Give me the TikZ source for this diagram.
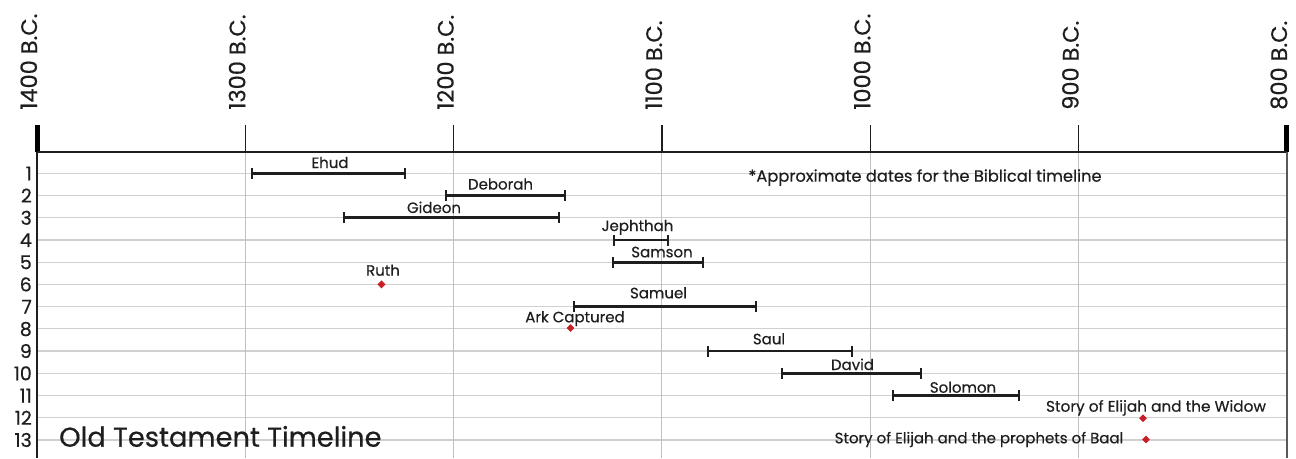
\documentclass[tikz,border=0pt]{standalone}
\usepackage{fontspec}
\setmainfont{Poppins}[FakeBold=0.45]
\usetikzlibrary{arrows.meta,shapes.geometric}
\definecolor{gridgray}{RGB}{208,208,208}
\definecolor{colgray}{RGB}{192,192,192}
\definecolor{dotred}{RGB}{200,30,40}
\definecolor{ink}{RGB}{30,30,30}
\begin{document}
\begin{tikzpicture}[x=1pt,y=-1pt,
  rowline/.style={draw=gridgray, line width=1.3pt},
  colline/.style={draw=colgray, line width=1pt},
  tickline/.style={draw=ink, line width=1.3pt},
  endtick/.style={draw=black, line width=5pt},
  bar/.style={draw=ink, line width=2.8pt, {Bar[width=11pt,line width=2.4pt]}-{Bar[width=11pt,line width=2.4pt]}},
  lbl/.style={font=\fontsize{15}{15}\selectfont, text=ink, anchor=base, inner sep=0},
  yearlbl/.style={font=\fontsize{22.5}{22.5}\selectfont, text=ink, rotate=90, anchor=base west, inner sep=0},
  rownum/.style={font=\fontsize{19}{19}\selectfont, text=ink, anchor=base east, inner sep=0},
  event/.style={diamond, fill=dotred, inner sep=0, minimum width=8pt, minimum height=8pt}
]
\useasboundingbox (0,0) rectangle (1296,458);
% rows
\foreach \i in {1,...,13}{
  \pgfmathsetmacro{\yy}{173.3+(\i-1)*22.22}
  \coordinate (rl\i) at (37,\yy);
  \coordinate (rr\i) at (1287,\yy);
  \draw[rowline] (rl\i) -- (rr\i);
  \node[rownum] (num\i) at (32,\yy+7) {\i};
}
% columns, ticks, year labels
\foreach \k/\yr in {0/1400,1/1300,2/1200,3/1100,4/1000,5/900,6/800}{
  \pgfmathsetmacro{\xx}{37+\k*208.33}
  \coordinate (top\k) at (\xx,125);
  \coordinate (ax\k) at (\xx,152);
  \coordinate (bot\k) at (\xx,458);
  \node[yearlbl] (yr\k) at (\xx,110) {\yr{} B.C.};
}
\foreach \k in {1,...,5}{
  \draw[colline] (ax\k) -- (bot\k);
  \draw[tickline] (top\k) -- (ax\k);
}
\draw[endtick] (top0) -- (ax0);
\draw[endtick] (top6) -- (ax6);
\draw[line width=1.6pt, draw=ink] (ax0) -- (ax6);
\draw[line width=2pt, draw=ink] (ax0) -- (bot0);
\draw[line width=2pt, draw=black!65] (ax6) -- (bot6);

% bars
\coordinate (ehudA) at (251,173.3);   \coordinate (ehudB) at (406,173.3);
\coordinate (debA) at (445,195.5);    \coordinate (debB) at (566,195.5);
\coordinate (gidA) at (343,217.7);    \coordinate (gidB) at (560,217.7);
\coordinate (jepA) at (613,240);      \coordinate (jepB) at (669,240);
\coordinate (samA) at (612,262.2);    \coordinate (samB) at (704,262.2);
\coordinate (smlA) at (573,306.6);    \coordinate (smlB) at (757,306.6);
\coordinate (saulA) at (707,351);     \coordinate (saulB) at (853,351);
\coordinate (davA) at (781,373.2);    \coordinate (davB) at (922,373.2);
\coordinate (solA) at (892,395.5);    \coordinate (solB) at (1020,395.5);
\draw[bar] (ehudA) -- (ehudB);
\draw[bar] (debA) -- (debB);
\draw[bar] (gidA) -- (gidB);
\draw[bar] (jepA) -- (jepB);
\draw[bar] (samA) -- (samB);
\draw[bar] (smlA) -- (smlB);
\draw[bar] (saulA) -- (saulB);
\draw[bar] (davA) -- (davB);
\draw[bar] (solA) -- (solB);

% events
\node[event] (ruthD) at (381.5,284.4) {};
\node[event] (arkD) at (570.5,328) {};
\node[event] (widowD) at (1143,418.3) {};
\node[event] (baalD) at (1146,439.5) {};

% labels
\node[lbl] (ehudL) at (330,168) {Ehud};
\node[lbl] (debL) at (500.5,189.5) {Deborah};
\node[lbl] (gidL) at (434,213) {Gideon};
\node[lbl] (jepL) at (637.5,231) {Jephthah};
\node[lbl] (samL) at (662,257.3) {Samson};
\node[lbl] (ruthL) at (383,275.7) {Ruth};
\node[lbl] (smlL) at (658.5,298.3) {Samuel};
\node[lbl] (arkL) at (575,322.3) {Ark Captured};
\node[lbl] (saulL) at (769,344.3) {Saul};
\node[lbl] (davL) at (852.5,370) {David};
\node[lbl] (solL) at (963,392.7) {Solomon};
\node[lbl, font=\fontsize{15.3}{15}\selectfont] (widowL) at (1156,411.7) {Story of Elijah and the Widow};
\node[lbl] (baalL) at (979,443.3) {Story of Elijah and the prophets of Baal};
\node[lbl, font=\fontsize{16.3}{16}\selectfont] (noteL) at (925,181.7) {*Approximate dates for the Biblical timeline};
\node[font=\fontsize{27.3}{27}\selectfont, text=ink, anchor=base west, inner sep=0] (title) at (59,446.7) {Old Testament Timeline};
\end{tikzpicture}
\end{document}
